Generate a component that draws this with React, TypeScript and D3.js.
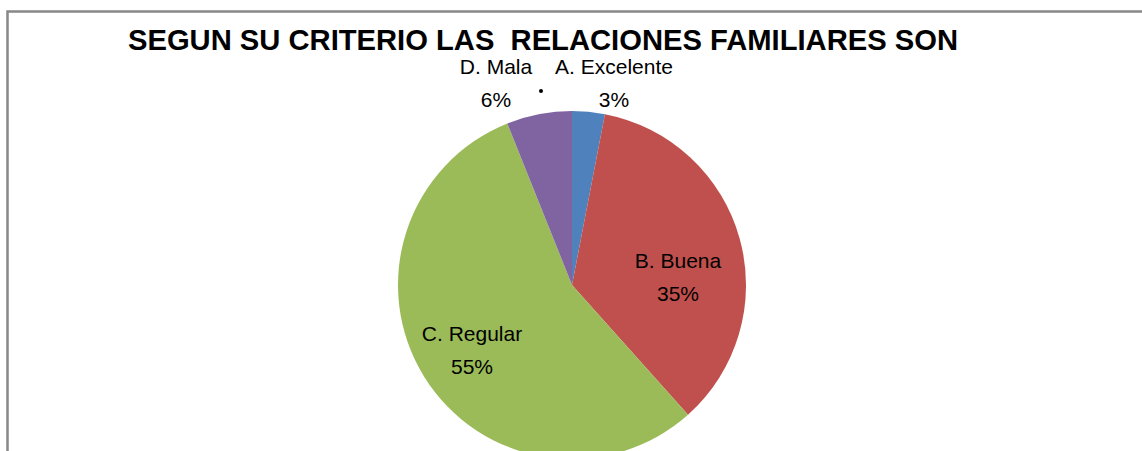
import React, { useEffect, useRef } from "react";
import * as d3 from "d3";

// data
const categories = ["A. Excelente", "B. Buena", "C. Regular", "D. Mala"];
const values = [3, 35, 55, 6];
const colors = ["#4F81BD", "#C0504D", "#9BBB59", "#8064A2"];
const chartTitle = "SEGUN SU CRITERIO LAS  RELACIONES FAMILIARES SON";

const width = 1142;
const height = 451;

function PieChart() {
  const svgRef = useRef<SVGSVGElement>(null);

  useEffect(() => {
    document.body.style.margin = "0";
    const svg = d3.select(svgRef.current);
    svg.selectAll("*").remove();

    const cx = 572;
    const cy = 285;
    const r = 174;

    // chart frame (left + top visible)
    svg
      .append("rect")
      .attr("x", 7.5)
      .attr("y", 11.5)
      .attr("width", 1200)
      .attr("height", 500)
      .attr("fill", "white")
      .attr("stroke", "#888888")
      .attr("stroke-width", 2.5);

    svg
      .append("text")
      .attr("x", 543)
      .attr("y", 50)
      .attr("text-anchor", "middle")
      .attr("font-family", "Liberation Sans, Arial, sans-serif")
      .attr("font-weight", "bold")
      .attr("font-size", 30)
      .attr("textLength", 830)
      .attr("lengthAdjust", "spacingAndGlyphs")
      .attr("fill", "#000")
      .style("white-space", "pre")
      .text(chartTitle);

    const pie = d3.pie<number>().sort(null).value((d) => d);
    const arcs = pie(values);
    const arc = d3.arc<d3.PieArcDatum<number>>().innerRadius(0).outerRadius(r);

    const g = svg.append("g").attr("transform", `translate(${cx},${cy})`);
    g.selectAll("path")
      .data(arcs)
      .join("path")
      .attr("d", arc)
      .attr("fill", (d, i) => colors[i]);

    // label placement: inside for big slices, outside above for small ones
    const labelPos: [number, number][] = [
      [614, 74],
      [678, 268],
      [472, 341],
      [496, 74],
    ];
    const pct = values.map((v) => `${v}%`);

    categories.forEach((c, i) => {
      const [x, y] = labelPos[i];
      const t = svg
        .append("text")
        .attr("x", x)
        .attr("y", y)
        .attr("text-anchor", "middle")
        .attr("font-family", "Liberation Sans, Arial, sans-serif")
        .attr("font-size", 21)
        .attr("fill", "#000");
      t.append("tspan").attr("x", x).text(c);
      t.append("tspan").attr("x", x).attr("dy", 33).text(pct[i]);
    });

    // small leader dot
    svg.append("circle").attr("cx", 541).attr("cy", 91).attr("r", 2).attr("fill", "#000");
  }, []);

  return <svg ref={svgRef} width={width} height={height} style={{ display: "block" }} />;
}

export default function App() {
  return (
    <div style={{ position: "absolute", left: 0, top: 0 }}>
      <PieChart />
    </div>
  );
}
